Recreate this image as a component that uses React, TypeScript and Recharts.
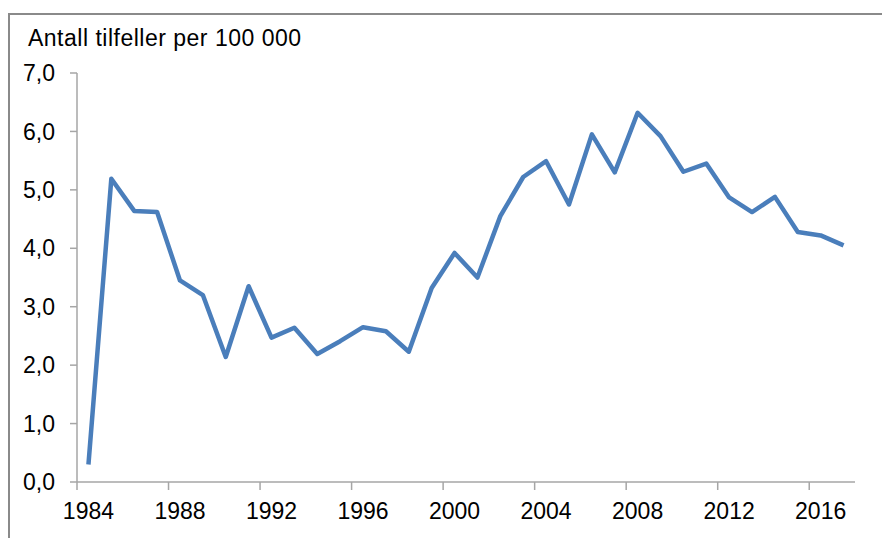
import React from 'react';
import { LineChart, Line, XAxis, YAxis } from 'recharts';

const years = [1984,1985,1986,1987,1988,1989,1990,1991,1992,1993,1994,1995,1996,1997,1998,1999,2000,2001,2002,2003,2004,2005,2006,2007,2008,2009,2010,2011,2012,2013,2014,2015,2016,2017];
const rates = [0.30,5.19,4.64,4.62,3.45,3.20,2.14,3.35,2.47,2.64,2.19,2.41,2.65,2.58,2.23,3.32,3.92,3.50,4.55,5.22,5.49,4.75,5.95,5.30,6.32,5.92,5.31,5.45,4.87,4.62,4.88,4.28,4.22,4.05];
const yTicks = [0,1,2,3,4,5,6,7];
const title = 'Antall tilfeller per 100 000';

const data = years.map((y, i) => ({ year: String(y), value: rates[i] }));

const W = 882;
const H = 538;
const M = { top: 73, right: 27, left: 0, bottom: 16 };
const Y_AXIS_W = 77;
const X_AXIS_H = 40;
const PLOT_LEFT = M.left + Y_AXIS_W;
const PLOT_RIGHT = W - M.right;
const AXIS_Y = H - M.bottom - X_AXIS_H;
const BAND = (PLOT_RIGHT - PLOT_LEFT) / years.length;
const FONT = '"Liberation Sans", Arial, sans-serif';
const AXIS_COLOR = '#a6a6a6';

const XTick = (props: any) => {
  const { x, payload } = props;
  const lx = x - BAND / 2;
  return (
    <g>
      <line x1={lx} y1={AXIS_Y} x2={lx} y2={AXIS_Y + 8} stroke={AXIS_COLOR} strokeWidth={1.5} />
      <text x={x} y={AXIS_Y + 37} textAnchor="middle" fontSize={23} fontFamily={FONT} fill="#000">
        {payload.value}
      </text>
    </g>
  );
};

export default function App() {
  return (
    <div style={{ position: 'absolute', left: 0, top: 0, width: W, height: H, overflow: 'hidden', background: '#fff' }}>
      <div style={{ position: 'absolute', left: 8, top: 13, width: 1000, height: 1000, borderTop: '2px solid #8a8a8a', borderLeft: '2px solid #8a8a8a' }} />
      <svg style={{ position: 'absolute', left: 0, top: 0 }} width={W} height={60}>
        <text x={28} y={45.5} fontSize={23} fontFamily={FONT} fill="#000" textLength={273} lengthAdjust="spacing">{title}</text>
      </svg>
      <div style={{ position: 'absolute', left: 0, top: 0 }}>
        <LineChart width={W} height={H} data={data} margin={M}>
          <XAxis
            dataKey="year"
            scale="band"
            interval={3}
            height={X_AXIS_H}
            stroke={AXIS_COLOR}
            strokeWidth={1.5}
            tickLine={false}
            tick={<XTick />}
          />
          <YAxis
            domain={[0, 7]}
            ticks={yTicks}
            width={Y_AXIS_W}
            stroke={AXIS_COLOR}
            strokeWidth={1.5}
            tickSize={7}
            tickMargin={15}
            tick={{ fontSize: 23, fontFamily: FONT, fill: '#000' }}
            tickFormatter={(v: number) => v.toFixed(1).replace('.', ',')}
          />
          <Line
            type="linear"
            dataKey="value"
            stroke="#4a7ebb"
            strokeWidth={4.5}
            dot={false}
            isAnimationActive={false}
            strokeLinejoin="round"
          />
        </LineChart>
      </div>
    </div>
  );
}
